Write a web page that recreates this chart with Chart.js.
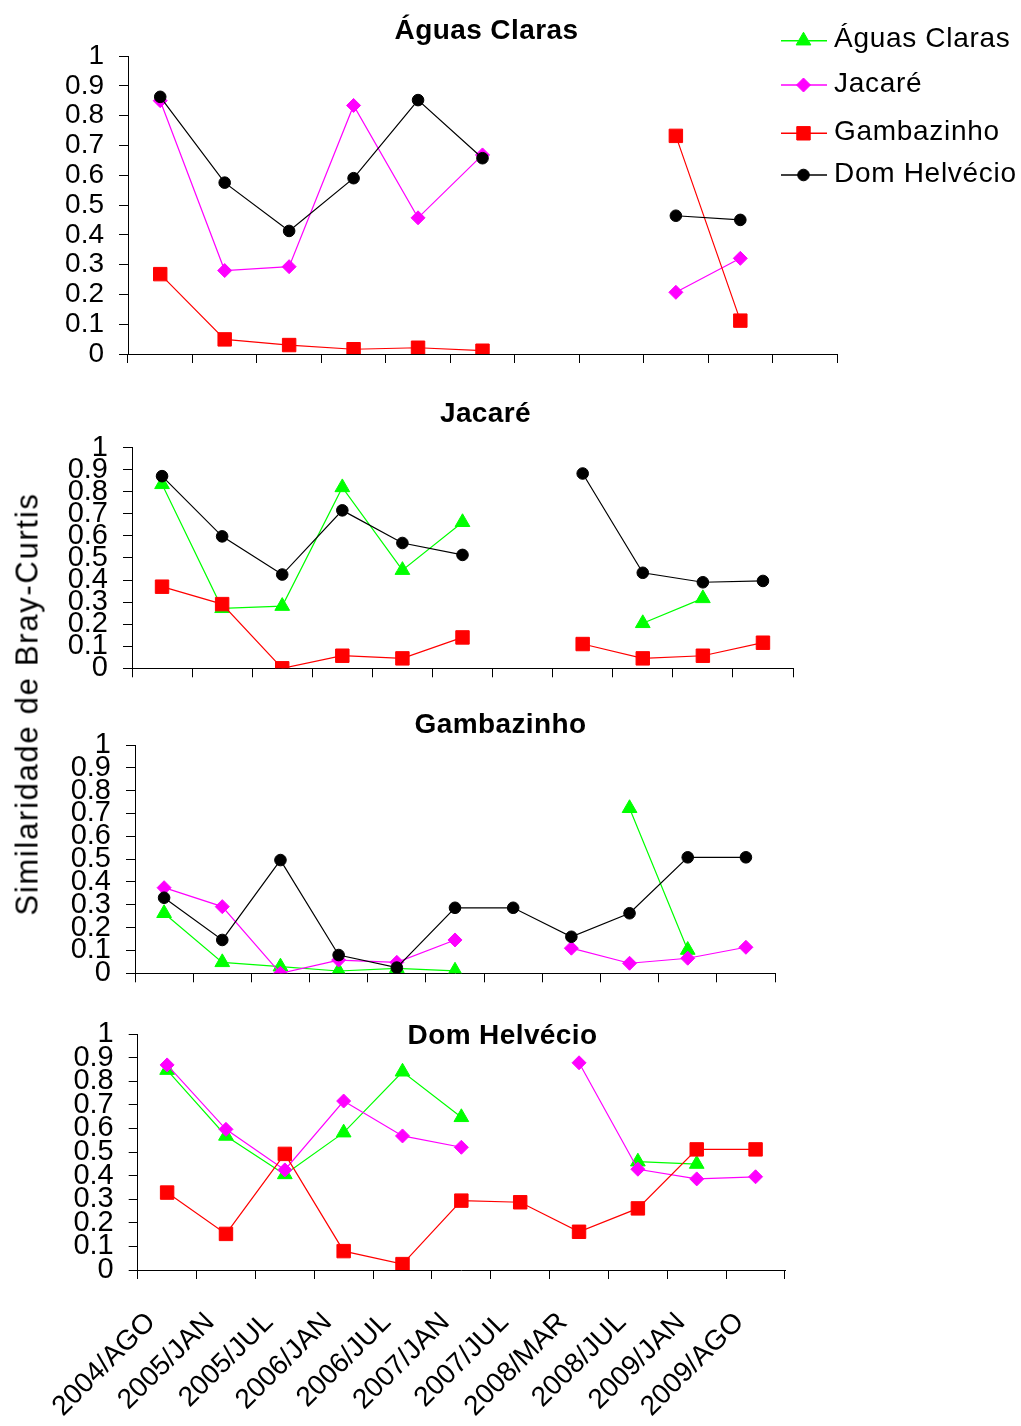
<!DOCTYPE html>
<html lang="pt">
<head>
<meta charset="utf-8">
<title>Similaridade de Bray-Curtis</title>
<script src="https://cdn.jsdelivr.net/npm/chart.js"></script>
<style>
  html, body { margin: 0; padding: 0; background: #fff; }
  #page { position: relative; width: 1021px; height: 1426px; overflow: hidden; }
  #page canvas { position: absolute; left: 0; }
  #ylabel {
    position: absolute; left: 26.5px; top: 704px;
    transform: translate(-50%, -50%) rotate(-90deg);
    font: 31px "Liberation Sans", Arial, sans-serif;
    letter-spacing: 1.7px; line-height: 1; white-space: nowrap; color: #000;
  }
</style>
</head>
<body>
<div id="page">
  <canvas id="c1"></canvas>
  <canvas id="c2"></canvas>
  <canvas id="c3"></canvas>
  <canvas id="c4"></canvas>
  <div id="ylabel">Similaridade de Bray-Curtis</div>
</div>
<script>
const categories = ['2004/AGO', '2005/JAN', '2005/JUL', '2006/JAN', '2006/JUL', '2007/JAN',
  '2007/JUL', '2008/MAR', '2008/JUL', '2009/JAN', '2009/AGO'];
const yTickLabels = ['0', '0.1', '0.2', '0.3', '0.4', '0.5', '0.6', '0.7', '0.8', '0.9', '1'];

const seriesNames = ['Águas Claras', 'Jacaré', 'Gambazinho', 'Dom Helvécio'];

// Águas Claras compared with the other sites
const acJacare = [0.85, 0.28, 0.293, 0.834, 0.457, 0.668, null, null, 0.207, 0.321, null];
const acGamb   = [0.268, 0.049, 0.03, 0.016, 0.021, 0.011, null, null, 0.732, 0.112, null];
const acDom    = [0.863, 0.575, 0.413, 0.59, 0.852, 0.657, null, null, 0.464, 0.45, null];

// Jacaré
const jacAguas = [0.834, 0.272, 0.282, 0.82, 0.445, 0.662, null, null, 0.204, 0.317, null];
const jacGamb  = [0.37, 0.291, 0.0, 0.057, 0.045, 0.14, null, 0.11, 0.045, 0.057, 0.116];
const jacDom   = [0.871, 0.598, 0.425, 0.716, 0.568, 0.514, null, 0.883, 0.433, 0.39, 0.396];

// Gambazinho
const gamAguas  = [0.263, 0.048, 0.029, 0.01, 0.022, 0.011, null, null, 0.723, 0.102, null];
const gamJacare = [0.375, 0.292, 0.0, 0.058, 0.048, 0.146, null, 0.11, 0.044, 0.066, 0.114];
const gamDom    = [0.331, 0.146, 0.496, 0.08, 0.025, 0.287, 0.287, 0.16, 0.263, 0.508, 0.508];

// Dom Helvécio
const domAguas  = [0.847, 0.568, 0.405, 0.582, 0.84, 0.647, null, null, 0.459, 0.449, null];
const domJacare = [0.869, 0.596, 0.424, 0.716, 0.568, 0.52, null, 0.878, 0.427, 0.386, 0.395];
const domGamb   = [0.328, 0.153, 0.492, 0.08, 0.025, 0.294, 0.287, 0.162, 0.261, 0.511, 0.511];

// line / marker look for each site, same order as seriesNames
const seriesStyle = [
  { color: '#00ff00', marker: 'triangle', radius: 8.5 },
  { color: '#ff00ff', marker: 'rectRot', radius: 7 },
  { color: '#ff0000', marker: 'rect', radius: 9.5 },
  { color: '#000000', marker: 'circle', radius: 5.8 },
];

const FONT = '"Liberation Sans", Arial, sans-serif';
const CANVAS_W = 1021;
const Y_AXIS_W = 100;

// page coordinates; canvases overlap a little so the axis labels have room
const panels = [
  { id: 'c1', top: 0, height: 400, title: 'Águas Claras', titleAt: [486.5, 39.3], tickSize: 28,
    series: [null, acJacare, acGamb, acDom],
    box: { left: 128, right: 837, top: 56, bottom: 354 }, labels: false, legend: true },
  { id: 'c2', top: 395, height: 315, title: 'Jacaré', titleAt: [485.5, 421.7], tickSize: 29,
    series: [jacAguas, null, jacGamb, jacDom],
    box: { left: 132, right: 793, top: 447.7, bottom: 668.3 }, labels: false },
  { id: 'c3', top: 705, height: 310, title: 'Gambazinho', titleAt: [500.5, 733.3], tickSize: 29,
    series: [gamAguas, gamJacare, null, gamDom],
    box: { left: 135, right: 775, top: 745, bottom: 973.3 }, labels: false },
  { id: 'c4', top: 1000, height: 426, title: 'Dom Helvécio', titleAt: [502.5, 1044.3], tickSize: 29,
    series: [domAguas, domJacare, domGamb, null],
    box: { left: 137.7, right: 785, top: 1034, bottom: 1270 }, labels: true },
];

const panelTitle = {
  id: 'panelTitle',
  afterDraw(chart, args, opts) {
    if (!opts.text) return;
    const ctx = chart.ctx;
    ctx.save();
    ctx.font = 'bold 28px ' + FONT;
    ctx.letterSpacing = '0.4px';
    ctx.fillStyle = '#000';
    ctx.textAlign = 'center';
    ctx.textBaseline = 'alphabetic';
    ctx.fillText(opts.text, opts.x, opts.y);
    ctx.restore();
  }
};

const siteLegend = {
  id: 'siteLegend',
  afterDraw(chart, args, opts) {
    if (!opts.display) return;
    const ctx = chart.ctx;
    const rows = [40.7, 85, 133.3, 175];
    ctx.save();
    ctx.font = '28px ' + FONT;
    ctx.letterSpacing = '0.7px';
    ctx.textBaseline = 'middle';
    seriesNames.forEach((name, i) => {
      const st = seriesStyle[i];
      const y = rows[i];
      ctx.strokeStyle = st.color;
      ctx.fillStyle = st.color;
      ctx.lineWidth = 1.5;
      ctx.beginPath();
      ctx.moveTo(781, y);
      ctx.lineTo(827, y);
      ctx.stroke();
      ctx.lineWidth = 1;
      Chart.helpers.drawPoint(ctx, { pointStyle: st.marker, radius: st.radius, rotation: 0, borderWidth: 1 }, 803.5, y);
      ctx.fillStyle = '#000';
      ctx.fillText(name, 834, y - 1);
    });
    ctx.restore();
  }
};

Chart.register(panelTitle, siteLegend);

function buildDatasets(series) {
  const sets = [];
  series.forEach((values, i) => {
    if (!values) return;
    const st = seriesStyle[i];
    sets.push({
      label: seriesNames[i],
      data: values,
      borderColor: st.color,
      backgroundColor: st.color,
      borderWidth: 1.2,
      pointStyle: st.marker,
      pointRadius: st.radius,
      pointHoverRadius: st.radius,
      pointBorderWidth: 1,
      order: 3 - i,
    });
  });
  return sets;
}

panels.forEach(p => {
  const canvas = document.getElementById(p.id);
  canvas.width = CANVAS_W;
  canvas.height = p.height;
  canvas.style.top = p.top + 'px';

  const boxTop = p.box.top - p.top;
  const boxBottom = p.box.bottom - p.top;
  const axisH = p.height - boxBottom;

  new Chart(canvas, {
    type: 'line',
    data: { labels: categories, datasets: buildDatasets(p.series) },
    options: {
      responsive: false,
      animation: false,
      events: [],
      layout: {
        padding: {
          left: p.box.left - Y_AXIS_W,
          right: CANVAS_W - p.box.right,
          top: boxTop,
          bottom: 0,
        }
      },
      plugins: {
        legend: { display: false },
        tooltip: { enabled: false },
        panelTitle: { text: p.title, x: p.titleAt[0], y: p.titleAt[1] - p.top },
        siteLegend: { display: !!p.legend },
      },
      scales: {
        x: {
          offset: true,
          grid: { offset: true, drawOnChartArea: false, tickLength: 9, color: '#000', lineWidth: 1 },
          border: { color: '#000', width: 1 },
          ticks: {
            display: p.labels,
            autoSkip: false,
            minRotation: 45,
            maxRotation: 45,
            padding: 27,
            labelOffset: -16,
            color: '#000',
            font: { family: FONT, size: 28 },
          },
          afterFit(scale) { scale.height = axisH; },
        },
        y: {
          min: 0,
          max: 1,
          grid: { drawOnChartArea: false, tickLength: 9, color: '#000', lineWidth: 1 },
          border: { color: '#000', width: 1 },
          ticks: {
            stepSize: 0.1,
            autoSkip: false,
            padding: 15,
            color: '#000',
            font: { family: FONT, size: p.tickSize },
            callback: (value, index) => yTickLabels[index],
          },
          afterFit(scale) { scale.width = Y_AXIS_W; },
        },
      },
    },
  });
});
</script>
</body>
</html>
